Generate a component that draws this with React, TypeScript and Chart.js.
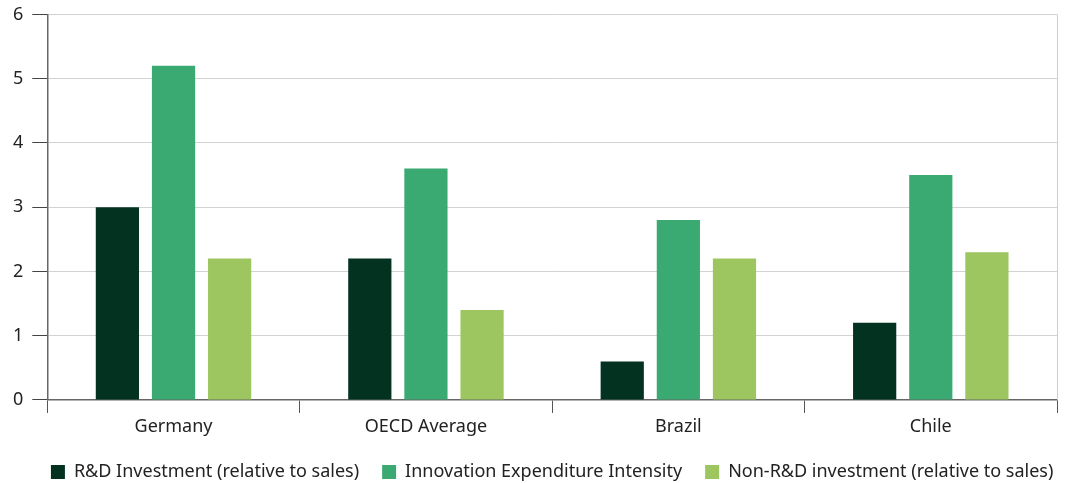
import React, { useEffect, useRef } from "react";
import { Chart, registerables } from "chart.js";

Chart.register(...registerables);

const categories = ["Germany", "OECD Average", "Brazil", "Chile"];
const rdInvestment = [3.0, 2.2, 0.6, 1.2];
const innovationIntensity = [5.2, 3.6, 2.8, 3.5];
const nonRdInvestment = [2.2, 1.4, 2.2, 2.3];
const yTicks = [0, 1, 2, 3, 4, 5, 6];

const FONT = "'Noto Sans', sans-serif";

const rightBorder = {
  id: "rightBorder",
  afterDraw(chart: any) {
    const { ctx, chartArea } = chart;
    ctx.save();
    ctx.strokeStyle = "#cfcfcf";
    ctx.lineWidth = 1;
    ctx.beginPath();
    ctx.moveTo(chartArea.right + 0.5, chartArea.top);
    ctx.lineTo(chartArea.right + 0.5, chartArea.bottom);
    ctx.stroke();
    ctx.restore();
  },
};

// Center the legend under the plot area (not the whole canvas)
const legendUnderPlot = {
  id: "legendUnderPlot",
  afterLayout(chart: any) {
    const lg = chart.legend;
    if (!lg) return;
    const { left, right } = chart.chartArea;
    lg.left = left - 30;
    lg.right = right + 30;
  },
};

export default function App() {
  const ref = useRef<HTMLCanvasElement | null>(null);
  useEffect(() => {
    document.body.style.margin = "0";
    const chart = new Chart(ref.current as HTMLCanvasElement, {
      type: "bar",
      data: {
        labels: categories,
        datasets: [
          { label: "R&D Investment (relative to sales)", data: rdInvestment, backgroundColor: "#033320" },
          { label: "Innovation Expenditure Intensity", data: innovationIntensity, backgroundColor: "#3aaa72" },
          { label: "Non-R&D investment (relative to sales)", data: nonRdInvestment, backgroundColor: "#9dc660" },
        ],
      },
      options: {
        animation: false,
        responsive: false,
        maintainAspectRatio: false,
        layout: { padding: { top: 13, right: 9, left: 4, bottom: -8 } },
        datasets: { bar: { categoryPercentage: 0.667, barPercentage: 0.77 } },
        plugins: {
          tooltip: { enabled: false },
          legend: {
            position: "bottom",
            align: "center",
            labels: {
              boxWidth: 14,
              boxHeight: 14,
              padding: 23,
              color: "#222",
              font: { family: FONT, size: 18 },
            },
          },
        },
        scales: {
          x: {
            grid: {
              offset: true,
              drawOnChartArea: false,
              drawTicks: true,
              tickLength: 13,
              color: "#555",
            },
            border: { color: "#666", width: 1.5 },
            ticks: { color: "#222", font: { family: FONT, size: 18, lineHeight: 1.28 }, padding: 2 },
          },
          y: {
            min: 0,
            max: 6,
            afterBuildTicks: (axis: any) => {
              axis.ticks = yTicks.map((v) => ({ value: v }));
            },
            grid: { color: "#d2d2d2", tickColor: "#444", tickLength: 15, lineWidth: 1 },
            border: { color: "#666", width: 1.5 },
            ticks: { color: "#222", font: { family: FONT, size: 18, lineHeight: 0.6 }, padding: 9 },
          },
        },
      },
      plugins: [rightBorder, legendUnderPlot],
    });
    return () => chart.destroy();
  }, []);
  return (
    <div style={{ width: 1066, height: 483 }}>
      <canvas ref={ref} width={1066} height={483} />
    </div>
  );
}
